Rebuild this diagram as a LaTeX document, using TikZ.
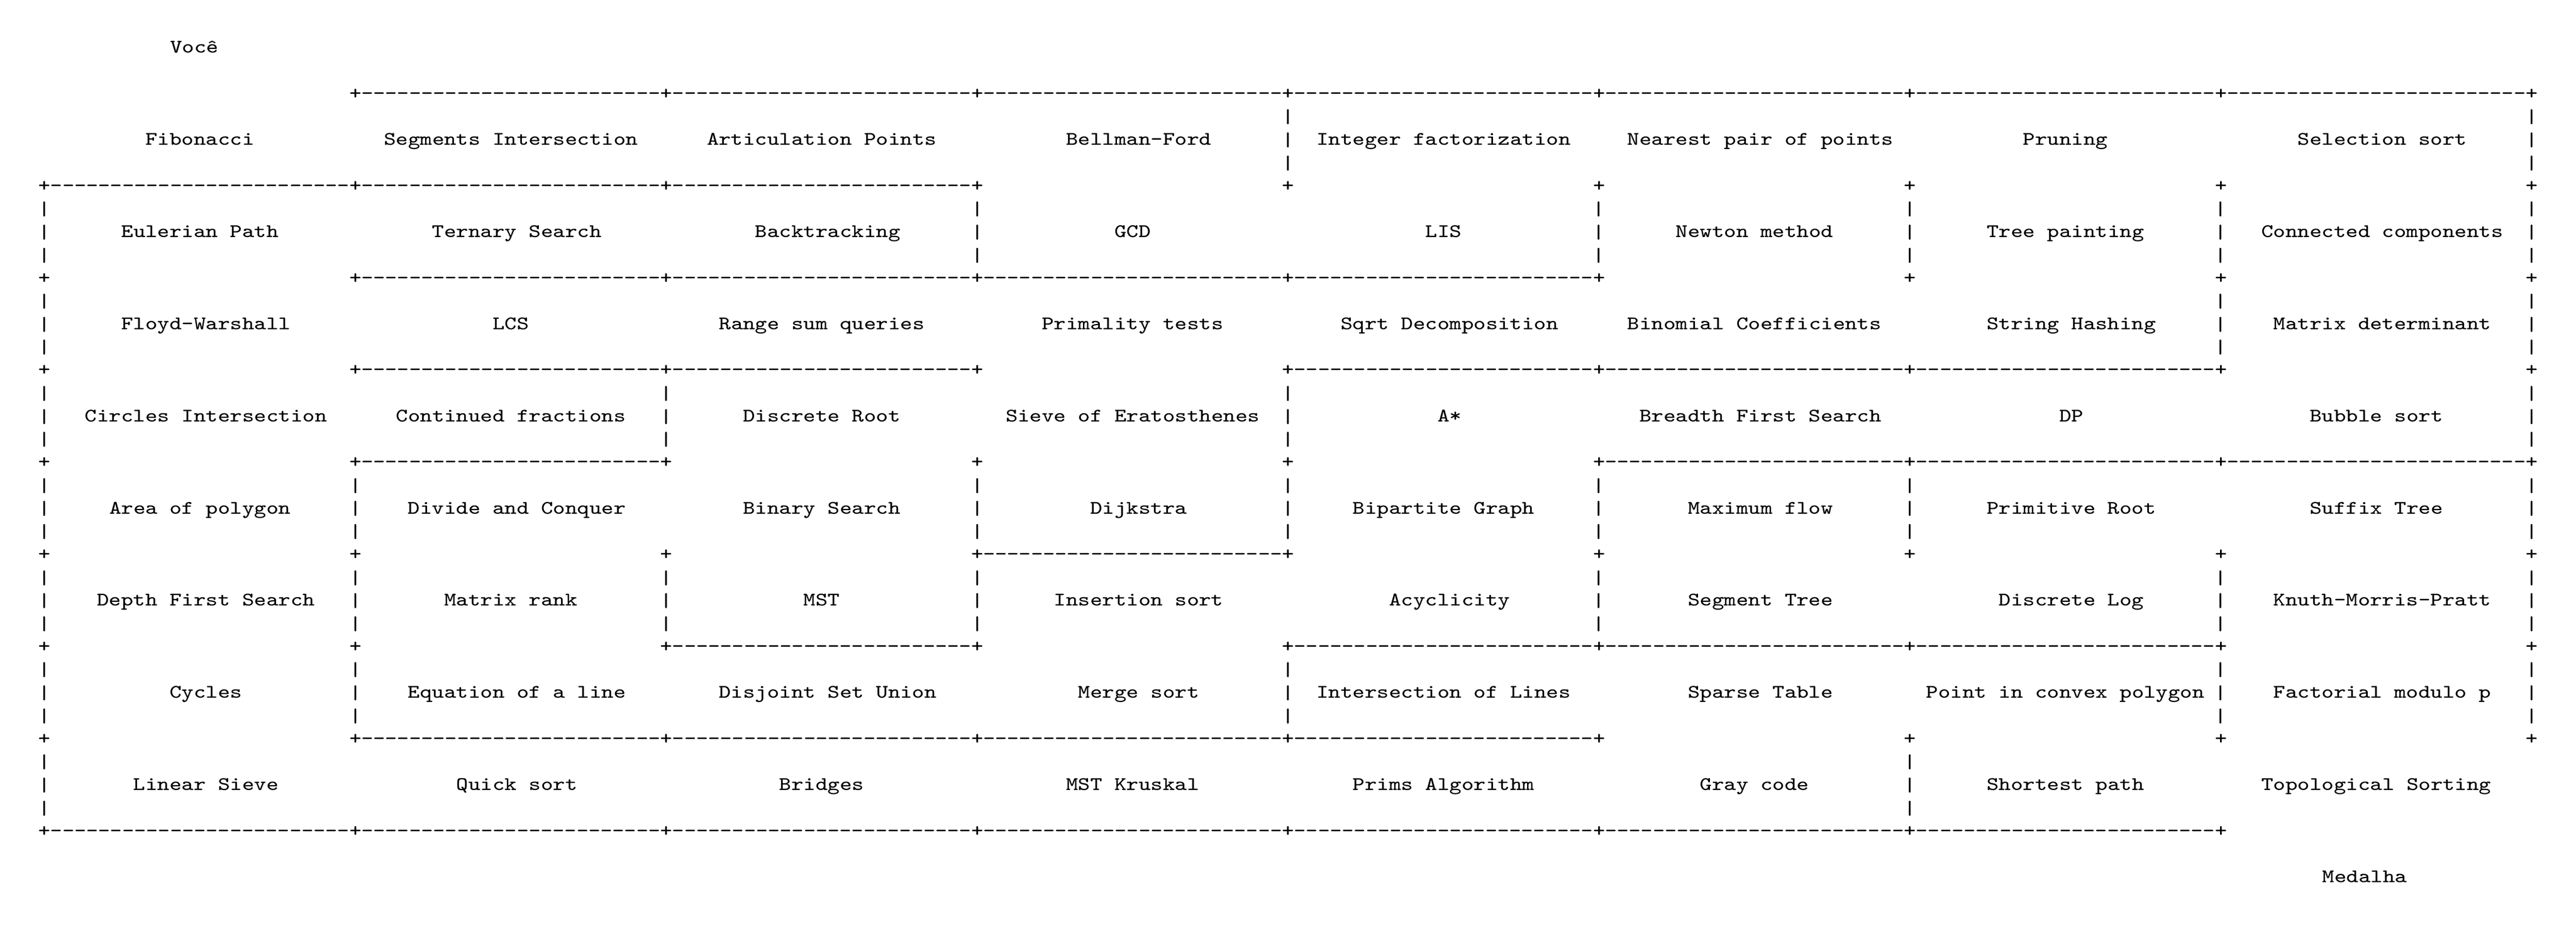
\documentclass[tikz,border=0pt]{standalone}
\usepackage{fontspec}
\usepackage{graphicx}
\newlength\mzcw
\setlength\mzcw{3.0006pt}
\newcommand\mzmono{\fontsize{5.7154pt}{6pt}\selectfont\ttfamily}
\newcommand\mzsq[1]{\scalebox{1}[0.84]{#1}}
\newcommand\mzbar{\scalebox{1}[0.85]{|}}
\newcommand\mzdash{\hbox to\mzcw{\hss-\hss}}
\newcommand\mzdashv{\mzdash\mzdash\mzdash\mzdash\mzdash}
\newcommand\mzdashes{\mzdashv\mzdashv\mzdashv\mzdashv\mzdashv}
\begin{document}
\begin{tikzpicture}[x=1pt,y=1pt,
  every node/.style={inner sep=0pt,outer sep=0pt},
  txt/.style={anchor=base west,font=\mzmono},
  lab/.style={anchor=base,font=\mzmono},
  barnode/.style={anchor=center,font=\mzmono}]
\useasboundingbox[fill=white] (0,0) rectangle (646.4,-232.2);
% horizontal walls
\foreach \i/\k in {0/1,0/2,0/3,0/4,0/5,0/6,0/7,
  1/0,1/1,1/2,
  2/1,2/2,2/3,2/4,
  3/1,3/2,3/4,3/5,3/6,
  4/1,4/5,4/6,4/7,
  5/3,
  6/2,6/4,6/5,6/6,
  7/1,7/2,7/3,7/4,
  8/0,8/1,8/2,8/3,8/4,8/5,8/6}{
  \pgfmathsetmacro\xx{9.67+3.0006*(26*\k+1)}
  \pgfmathsetmacro\yy{-(9.17+(2+4*\i+0.5)*5.78)-1.25}
  \node[txt] (h\i-\k) at (\xx,\yy) {\mzsq{\mzdashes}};
}
% corners
\foreach \i in {0,...,8}{
  \foreach \m in {0,...,8}{
    \pgfmathtruncatemacro\skipit{((\i==0)&&(\m==0))||((\i==8)&&(\m==8))}
    \ifnum\skipit=0
      \pgfmathsetmacro\xx{9.67+3.0006*(26*\m)}
      \pgfmathsetmacro\yy{-(9.17+(2+4*\i+0.5)*5.78)-1.25}
      \node[txt] (p\i-\m) at (\xx,\yy) {\mzsq{+}};
    \fi
  }
}
% vertical walls
\foreach \j/\m in {0/4,0/8,
  1/0,1/3,1/5,1/6,1/7,1/8,
  2/0,2/7,2/8,
  3/0,3/2,3/4,3/8,
  4/0,4/1,4/3,4/4,4/5,4/6,4/8,
  5/0,5/1,5/2,5/3,5/5,5/7,5/8,
  6/0,6/1,6/4,6/7,6/8,
  7/0,7/6}{
  \foreach \r in {3,4,5}{
    \pgfmathsetmacro\xx{9.67+3.0006*(26*\m+0.5)}
    \pgfmathsetmacro\yy{-(9.17+(4*\j+\r+0.5)*5.78)}
    \node[barnode] (v\j-\m-\r) at (\xx,\yy) {\mzbar};
  }
}
% cell labels
\foreach \j/\k/\s/\t in {
  0/0/0/Fibonacci, 0/1/0/Segments Intersection, 0/2/0/Articulation Points, 0/3/1/Bellman-Ford,
  0/4/0/Integer factorization, 0/5/1/Nearest pair of points, 0/6/0/Pruning, 0/7/1/Selection sort,
  1/0/0/Eulerian Path, 1/1/1/Ternary Search, 1/2/1/Backtracking, 1/3/0/GCD,
  1/4/0/LIS, 1/5/0/Newton method, 1/6/0/Tree painting, 1/7/1/Connected components,
  2/0/1/Floyd-Warshall, 2/1/0/LCS, 2/2/0/Range sum queries, 2/3/0/Primality tests,
  2/4/1/Sqrt Decomposition, 2/5/0/Binomial Coefficients, 2/6/1/String Hashing, 2/7/1/Matrix determinant,
  3/0/1/Circles Intersection, 3/1/0/Continued fractions, 3/2/0/Discrete Root, 3/3/0/Sieve of Eratosthenes,
  3/4/1/A*, 3/5/1/Breadth First Search, 3/6/1/DP, 3/7/0/Bubble sort,
  4/0/0/Area of polygon, 4/1/1/Divide and Conquer, 4/2/0/Binary Search, 4/3/1/Dijkstra,
  4/4/0/Bipartite Graph, 4/5/1/Maximum flow, 4/6/1/Primitive Root, 4/7/0/Suffix Tree,
  5/0/1/Depth First Search, 5/1/0/Matrix rank, 5/2/0/MST, 5/3/1/Insertion sort,
  5/4/1/Acyclicity, 5/5/1/Segment Tree, 5/6/1/Discrete Log, 5/7/1/Knuth-Morris-Pratt,
  6/0/1/Cycles, 6/1/1/Equation of a line, 6/2/1/Disjoint Set Union, 6/3/1/Merge sort,
  6/4/0/Intersection of Lines, 6/5/1/Sparse Table, 6/6/0/Point in convex polygon, 6/7/1/Factorial modulo p,
  7/0/1/Linear Sieve, 7/1/1/Quick sort, 7/2/0/Bridges, 7/3/0/MST Kruskal,
  7/4/0/Prims Algorithm, 7/5/0/Gray code, 7/6/0/Shortest path, 7/7/0/Topological Sorting}{
  \pgfmathsetmacro\xx{9.67+3.0006*(26*\k+1+12.5+0.5*\s)}
  \pgfmathsetmacro\yy{-(9.17+(4*\j+4+0.5)*5.78)-1.25}
  \node[lab] (t\j-\k) at (\xx,\yy) {\mzsq{\t}};
}
% start and goal
\node[txt] (voce) at ({9.67+3.0006*11},{-(9.17+0.5*5.78)-1.25}) {\mzsq{Você}};
\node[txt] (medalha) at ({9.67+3.0006*191},{-(9.17+36.5*5.78)-1.25}) {\mzsq{Medalha}};
\end{tikzpicture}
\end{document}
